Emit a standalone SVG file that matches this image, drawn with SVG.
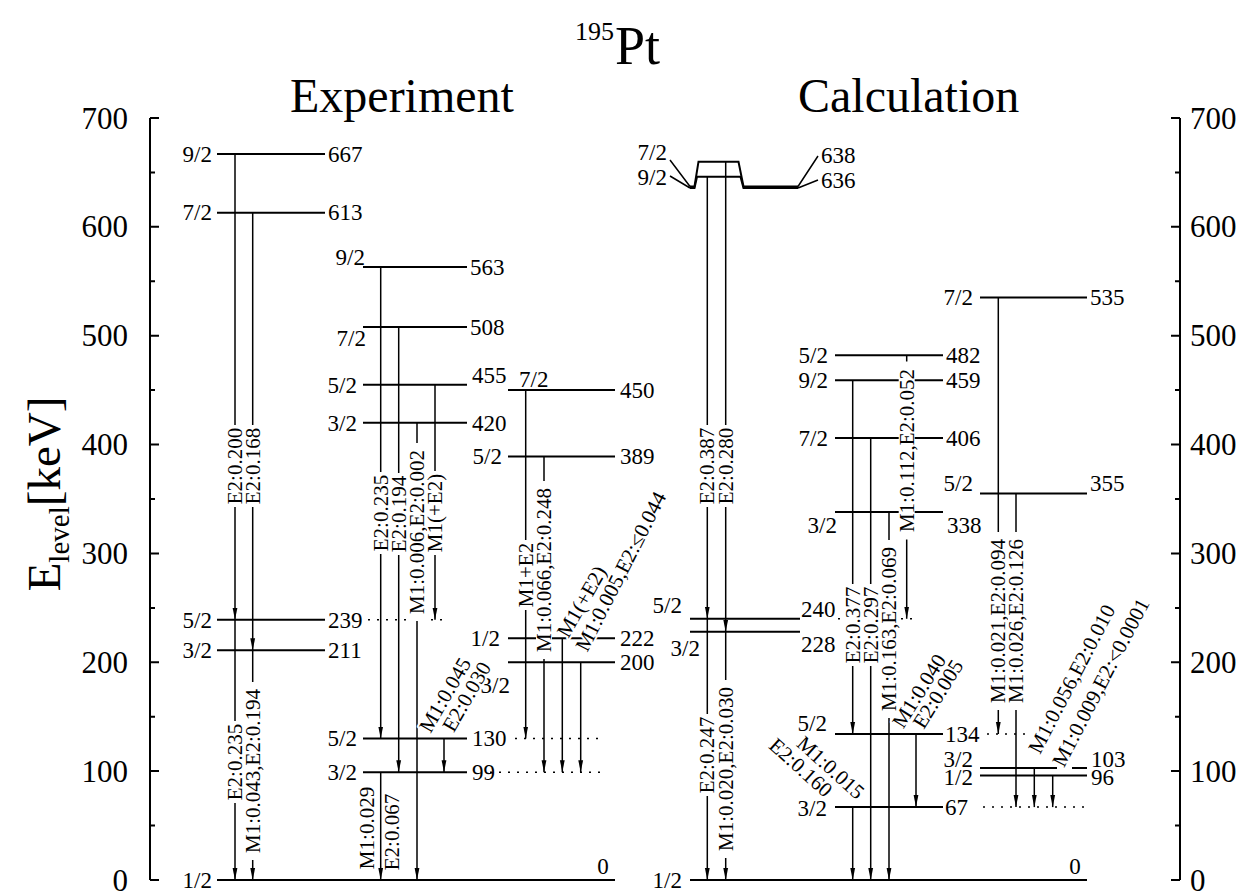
<svg xmlns="http://www.w3.org/2000/svg" width="1236" height="895" viewBox="0 0 1236 895">
<defs>
<marker id="ah" markerUnits="userSpaceOnUse" markerWidth="12" markerHeight="8" viewBox="0 0 12 8" refX="12" refY="4" orient="auto"><path d="M0,1.6 L12,4 L0,6.4 z" fill="#000"/></marker>
<style>
.lv{stroke:#000;stroke-width:2;fill:none}
.ax{stroke:#000;stroke-width:2;fill:none}
.tr{stroke:#000;stroke-width:1.5;fill:none}
.dt{stroke:#000;stroke-width:1.5;stroke-dasharray:2 7;fill:none}
text{font-family:"Liberation Serif","Times New Roman",serif;fill:#000}
.sl{font-size:23px;text-anchor:end}
.el{font-size:23px}
.tl{font-size:21px;text-anchor:middle;dominant-baseline:central}
.kn{fill:#fff}
.hl{paint-order:stroke;stroke:#fff;stroke-width:4px;stroke-linejoin:round}
.an{font-size:31px}
</style>
</defs>
<rect width="1236" height="895" fill="#fff"/>

<g id="title">
<text x="575" y="40" font-size="26">195</text>
<text x="615" y="64" font-size="54">Pt</text>
<text x="290" y="112" font-size="48">Experiment</text>
<text x="798" y="112" font-size="48">Calculation</text>
</g>

<g id="axes">
<path class="ax" d="M150,118 V880 M1180,118 V880"/>
<path class="ax" d="M150,880 h9 M150,771.1 h9 M150,662.3 h9 M150,553.4 h9 M150,444.6 h9 M150,335.7 h9 M150,226.8 h9 M150,118 h9 M150,825.6 h5 M150,716.7 h5 M150,607.9 h5 M150,499 h5 M150,390.1 h5 M150,281.3 h5 M150,172.4 h5"/>
<path class="ax" d="M1180,880 h-9 M1180,771.1 h-9 M1180,662.3 h-9 M1180,553.4 h-9 M1180,444.6 h-9 M1180,335.7 h-9 M1180,226.8 h-9 M1180,118 h-9 M1180,825.6 h-5 M1180,716.7 h-5 M1180,607.9 h-5 M1180,499 h-5 M1180,390.1 h-5 M1180,281.3 h-5 M1180,172.4 h-5"/>
<g class="an" text-anchor="end">
<text x="128" y="891">0</text><text x="128" y="782">100</text><text x="128" y="673">200</text><text x="128" y="564">300</text><text x="128" y="455">400</text><text x="128" y="346">500</text><text x="128" y="237">600</text><text x="128" y="129">700</text>
</g>
<g class="an">
<text x="1190" y="891">0</text><text x="1190" y="782">100</text><text x="1190" y="673">200</text><text x="1190" y="564">300</text><text x="1190" y="455">400</text><text x="1190" y="346">500</text><text x="1190" y="237">600</text><text x="1190" y="129">700</text>
</g>
<text transform="translate(60,494) rotate(-90)" text-anchor="middle" font-size="47">E<tspan font-size="29" dy="9">level</tspan><tspan dy="-9">[keV]</tspan></text>
</g>

<!-- Experiment levels -->
<g id="exp-667"><line class="lv" x1="217" y1="153.9" x2="325" y2="153.9"/><text class="sl" x="212" y="161.5">9/2</text><text class="el" x="328" y="161.5">667</text></g>
<g id="exp-613"><line class="lv" x1="217" y1="212.7" x2="325" y2="212.7"/><text class="sl" x="212" y="220.3">7/2</text><text class="el" x="328" y="220.3">613</text></g>
<g id="exp-239"><line class="lv" x1="217" y1="619.8" x2="325" y2="619.8"/><line class="dt" x1="368" y1="619.8" x2="442" y2="619.8"/><text class="sl" x="212" y="627.5">5/2</text><text class="el" x="328" y="627.5">239</text></g>
<g id="exp-211"><line class="lv" x1="217" y1="650.3" x2="325" y2="650.3"/><text class="sl" x="212" y="658">3/2</text><text class="el" x="328" y="658">211</text></g>
<g id="exp-0"><line class="lv" x1="217" y1="880" x2="615" y2="880"/><text class="sl" x="212" y="888">1/2</text><text class="el" x="603" y="874" text-anchor="middle">0</text></g>
<g id="exp-563"><line class="lv" x1="363" y1="267.1" x2="467" y2="267.1"/><text class="sl" x="365" y="265">9/2</text><text class="el" x="470" y="275">563</text></g>
<g id="exp-508"><line class="lv" x1="363" y1="327" x2="467" y2="327"/><text class="sl" x="366" y="346">7/2</text><text class="el" x="470" y="335">508</text></g>
<g id="exp-455"><line class="lv" x1="363" y1="384.7" x2="467" y2="384.7"/><text class="sl" x="357" y="392.5">5/2</text><text class="el" x="472" y="383">455</text></g>
<g id="exp-420"><line class="lv" x1="363" y1="422.8" x2="467" y2="422.8"/><text class="sl" x="357" y="430.5">3/2</text><text class="el" x="472" y="430.5">420</text></g>
<g id="exp-130"><line class="lv" x1="363" y1="738.5" x2="467" y2="738.5"/><line class="dt" x1="515" y1="738.5" x2="605" y2="738.5"/><text class="sl" x="357" y="746">5/2</text><text class="el" x="472" y="746">130</text></g>
<g id="exp-99"><line class="lv" x1="363" y1="772.2" x2="467" y2="772.2"/><line class="dt" x1="490" y1="772.2" x2="605" y2="772.2"/><text class="sl" x="357" y="780">3/2</text><text class="el" x="472" y="780">99</text></g>
<g id="exp-450"><line class="lv" x1="508" y1="390.1" x2="615" y2="390.1"/><text class="el" x="519" y="387">7/2</text><text class="el" x="620" y="398">450</text></g>
<g id="exp-389"><line class="lv" x1="508" y1="456.5" x2="615" y2="456.5"/><text class="sl" x="502" y="464">5/2</text><text class="el" x="620" y="464">389</text></g>
<g id="exp-222"><line class="lv" x1="508" y1="638.3" x2="615" y2="638.3"/><text class="sl" x="500" y="646">1/2</text><text class="el" x="620" y="646">222</text></g>
<g id="exp-200"><line class="lv" x1="508" y1="662.3" x2="615" y2="662.3"/><text class="sl" x="510" y="693">3/2</text><text class="el" x="620" y="670">200</text></g>

<!-- Calculation levels -->
<g id="calc-636-638">
<path class="lv" d="M690,186.5 L694.5,186.5 L698.5,161.7 L738.5,161.7 L743.5,186.5 L798,186.5"/>
<path class="lv" d="M690,188 L694.5,188 L697,176.7 L740.5,176.7 L743.5,188 L798,188"/>
<path class="tr" d="M670,160 L690,186.5 M670,176 L690,188 M798,186.5 L818,156 M798,188 L818,180"/>
<text class="sl" x="667" y="160">7/2</text><text class="sl" x="667" y="185">9/2</text>
<text class="el" x="821" y="163">638</text><text class="el" x="821" y="188">636</text>
</g>
<g id="calc-240"><line class="lv" x1="690" y1="618.7" x2="800" y2="618.7"/><line class="dt" x1="838" y1="618.7" x2="915" y2="618.7"/><text class="sl" x="682" y="613">5/2</text><text class="el" x="801" y="617">240</text></g>
<g id="calc-228"><line class="lv" x1="690" y1="631.8" x2="800" y2="631.8"/><text class="sl" x="700" y="656">3/2</text><text class="el" x="801" y="652">228</text></g>
<g id="calc-0"><line class="lv" x1="690" y1="880" x2="1087" y2="880"/><text class="sl" x="682" y="888">1/2</text><text class="el" x="1075" y="874" text-anchor="middle">0</text></g>
<g id="calc-482"><line class="lv" x1="835" y1="355.3" x2="943" y2="355.3"/><text class="sl" x="828" y="363">5/2</text><text class="el" x="946" y="363">482</text></g>
<g id="calc-459"><line class="lv" x1="835" y1="380.3" x2="943" y2="380.3"/><text class="sl" x="828" y="388">9/2</text><text class="el" x="946" y="388">459</text></g>
<g id="calc-406"><line class="lv" x1="835" y1="438" x2="943" y2="438"/><text class="sl" x="828" y="445.5">7/2</text><text class="el" x="946" y="445.5">406</text></g>
<g id="calc-338"><line class="lv" x1="835" y1="512.1" x2="943" y2="512.1"/><text class="sl" x="837" y="533">3/2</text><text class="el" x="947" y="533">338</text></g>
<g id="calc-134"><line class="lv" x1="835" y1="734.1" x2="943" y2="734.1"/><line class="dt" x1="987" y1="734.1" x2="1027" y2="734.1"/><text class="sl" x="827" y="731">5/2</text><text class="el" x="945" y="742">134</text></g>
<g id="calc-67"><line class="lv" x1="835" y1="807.1" x2="943" y2="807.1"/><line class="dt" x1="983" y1="807.1" x2="1085" y2="807.1"/><text class="sl" x="827" y="816">3/2</text><text class="el" x="945" y="815">67</text></g>
<g id="calc-535"><line class="lv" x1="980" y1="297.6" x2="1087" y2="297.6"/><text class="sl" x="973" y="305">7/2</text><text class="el" x="1090" y="305">535</text></g>
<g id="calc-355"><line class="lv" x1="980" y1="493.5" x2="1087" y2="493.5"/><text class="sl" x="973" y="491">5/2</text><text class="el" x="1090" y="491">355</text></g>
<g id="calc-103"><path class="lv" d="M980,767.9 H1057 M1072,767.9 H1087"/><text class="sl" x="973" y="767">3/2</text><text class="el" x="1091" y="767">103</text></g>
<g id="calc-96"><line class="lv" x1="980" y1="775.5" x2="1087" y2="775.5"/><text class="sl" x="973" y="785">1/2</text><text class="el" x="1091" y="785">96</text></g>

<g id="connectors">
<g marker-end="url(#ah)">
<line class="tr" x1="235" y1="153.9" x2="235" y2="619.8"/>
<line class="tr" x1="252.7" y1="212.7" x2="252.7" y2="650.3"/>
<line class="tr" x1="235" y1="619.8" x2="235" y2="880"/>
<line class="tr" x1="252.7" y1="650.3" x2="252.7" y2="880"/>
<line class="tr" x1="380.7" y1="267.1" x2="380.7" y2="738.5"/>
<line class="tr" x1="398.7" y1="327" x2="398.7" y2="772.2"/>
<line class="tr" x1="417" y1="422.8" x2="417" y2="880"/>
<line class="tr" x1="435" y1="384.7" x2="435" y2="619.8"/>
<line class="tr" x1="444" y1="738.5" x2="444" y2="772.2"/>
<line class="tr" x1="380.7" y1="772.2" x2="380.7" y2="880"/>
<line class="tr" x1="525.7" y1="390.1" x2="525.7" y2="738.5"/>
<line class="tr" x1="544" y1="456.5" x2="544" y2="772.2"/>
<line class="tr" x1="562.3" y1="638.3" x2="562.3" y2="772.2"/>
<line class="tr" x1="580.7" y1="662.3" x2="580.7" y2="772.2"/>
<line class="tr" x1="707.3" y1="176.7" x2="707.3" y2="618.7"/>
<line class="tr" x1="725.7" y1="161.7" x2="725.7" y2="631.8"/>
<line class="tr" x1="707.3" y1="618.7" x2="707.3" y2="880"/>
<line class="tr" x1="725.7" y1="631.8" x2="725.7" y2="880"/>
<line class="tr" x1="852.7" y1="380.3" x2="852.7" y2="734.1"/>
<line class="tr" x1="870.7" y1="438" x2="870.7" y2="880"/>
<line class="tr" x1="889" y1="512.1" x2="889" y2="880"/>
<line class="tr" x1="906.7" y1="355.3" x2="906.7" y2="618.7"/>
<line class="tr" x1="916" y1="734.1" x2="916" y2="807.1"/>
<line class="tr" x1="852.7" y1="807.1" x2="852.7" y2="880"/>
<line class="tr" x1="998.3" y1="297.6" x2="998.3" y2="734.1"/>
<line class="tr" x1="1016" y1="493.5" x2="1016" y2="807.1"/>
<line class="tr" x1="1034.3" y1="767.9" x2="1034.3" y2="807.1"/>
<line class="tr" x1="1052.7" y1="775.5" x2="1052.7" y2="807.1"/>
</g>

<g transform="translate(235,466) rotate(-90)"><rect class="kn" x="-41" y="-8" width="82" height="16"/><text class="tl">E2:0.200</text></g>
<g transform="translate(252.7,466) rotate(-90)"><rect class="kn" x="-41" y="-8" width="82" height="16"/><text class="tl">E2:0.168</text></g>
<g transform="translate(235,762) rotate(-90)"><rect class="kn" x="-41" y="-8" width="82" height="16"/><text class="tl">E2:0.235</text></g>
<g transform="translate(252.7,771) rotate(-90)"><rect class="kn" x="-89" y="-8" width="178" height="16"/><text class="tl">M1:0.043,E2:0.194</text></g>
<g transform="translate(380.7,513) rotate(-90)"><rect class="kn" x="-41" y="-8" width="82" height="16"/><text class="tl">E2:0.235</text></g>
<g transform="translate(398.7,514) rotate(-90)"><rect class="kn" x="-41" y="-8" width="82" height="16"/><text class="tl">E2:0.194</text></g>
<g transform="translate(417,532) rotate(-90)"><rect class="kn" x="-89" y="-8" width="178" height="16"/><text class="tl">M1:0.006,E2:0.002</text></g>
<g transform="translate(435,513) rotate(-90)"><rect class="kn" x="-42" y="-8" width="84" height="16"/><text class="tl">M1(+E2)</text></g>
<text class="tl" transform="translate(366.7,828) rotate(-90)">M1:0.029</text>
<text class="tl" transform="translate(391.7,832) rotate(-90)">E2:0.067</text>
<text class="tl hl" transform="translate(445,695) rotate(-60)">M1:0.045</text>
<text class="tl hl" transform="translate(466.7,696.7) rotate(-60)">E2:0.030</text>
<g transform="translate(525.7,575) rotate(-90)"><rect class="kn" x="-35" y="-8" width="70" height="16"/><text class="tl">M1+E2</text></g>
<g transform="translate(544,570) rotate(-90)"><rect class="kn" x="-89" y="-8" width="178" height="16"/><text class="tl">M1:0.066,E2:0.248</text></g>
<text class="tl hl" transform="translate(581.7,601.7) rotate(-60)">M1(+E2)</text>
<text class="tl hl" transform="translate(620.8,571.5) rotate(-63)">M1:0.005,E2:≤0.044</text>

<g transform="translate(707.3,466) rotate(-90)"><rect class="kn" x="-41" y="-8" width="82" height="16"/><text class="tl">E2:0.387</text></g>
<g transform="translate(725.7,466) rotate(-90)"><rect class="kn" x="-41" y="-8" width="82" height="16"/><text class="tl">E2:0.280</text></g>
<g transform="translate(707.3,755) rotate(-90)"><rect class="kn" x="-41" y="-8" width="82" height="16"/><text class="tl">E2:0.247</text></g>
<g transform="translate(725.7,769) rotate(-90)"><rect class="kn" x="-89" y="-8" width="178" height="16"/><text class="tl">M1:0.020,E2:0.030</text></g>
<g transform="translate(852.7,625) rotate(-90)"><rect class="kn" x="-41" y="-8" width="82" height="16"/><text class="tl">E2:0.377</text></g>
<g transform="translate(870.7,625) rotate(-90)"><rect class="kn" x="-41" y="-8" width="82" height="16"/><text class="tl">E2:0.297</text></g>
<g transform="translate(889,629) rotate(-90)"><rect class="kn" x="-89" y="-8" width="178" height="16"/><text class="tl">M1:0.163,E2:0.069</text></g>
<g transform="translate(906.7,450.5) rotate(-90)"><rect class="kn" x="-89" y="-8" width="178" height="16"/><text class="tl">M1:0.112,E2:0.052</text></g>
<text class="tl hl" transform="translate(919,691) rotate(-58)">M1:0.040</text>
<text class="tl hl" transform="translate(938,694) rotate(-58)">E2:0.005</text>
<text class="tl hl" transform="translate(830.7,767.5) rotate(42)">M1:0.015</text>
<text class="tl hl" transform="translate(800.8,767.5) rotate(42)">E2:0.160</text>
<g transform="translate(998.3,621) rotate(-90)"><rect class="kn" x="-89" y="-8" width="178" height="16"/><text class="tl">M1:0.021,E2:0.094</text></g>
<g transform="translate(1016,621) rotate(-90)"><rect class="kn" x="-89" y="-8" width="178" height="16"/><text class="tl">M1:0.026,E2:0.126</text></g>
<text class="tl hl" transform="translate(1071.7,679) rotate(-62.5)">M1:0.056,E2:0.010</text>
<text class="tl hl" transform="translate(1100.8,682.5) rotate(-62.5)">M1:0.009,E2:&lt;0.0001</text>
</g>
</svg>
